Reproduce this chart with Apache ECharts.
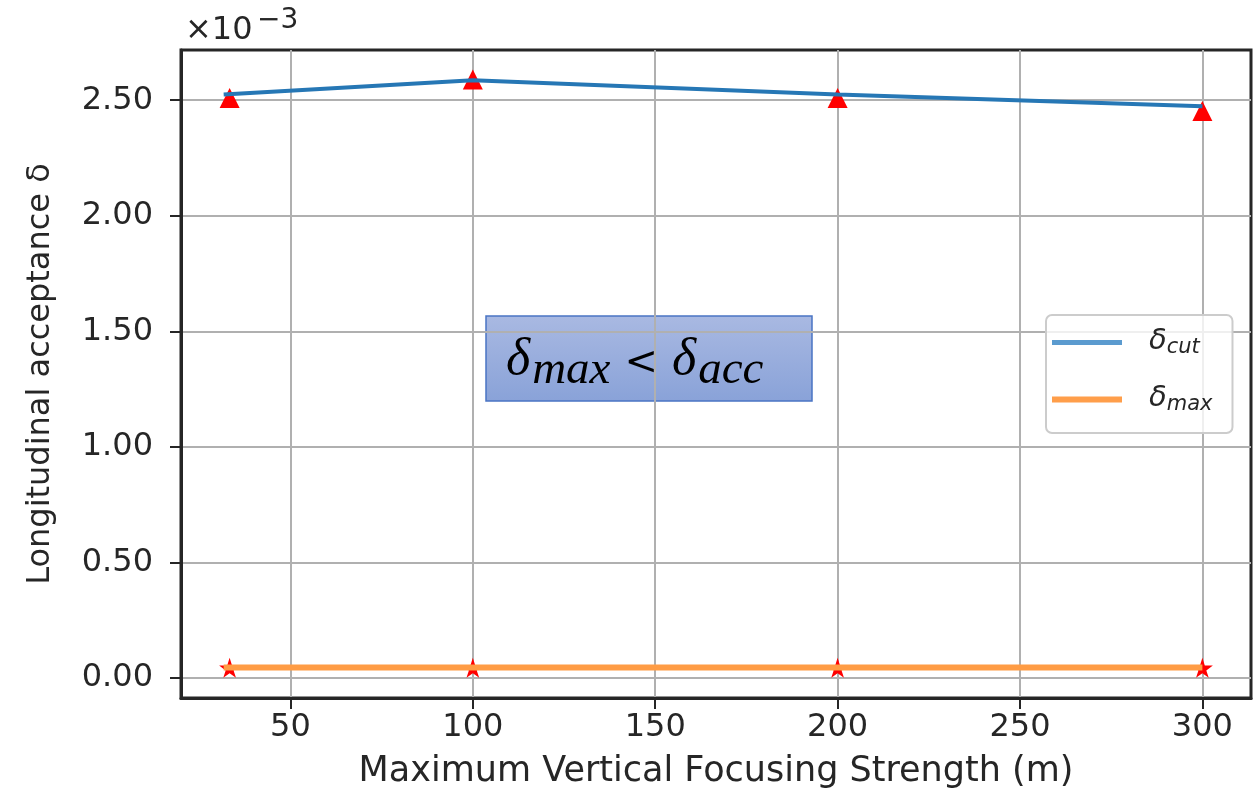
<!DOCTYPE html>
<html>
<head>
<meta charset="utf-8">
<script src="https://cdn.jsdelivr.net/npm/echarts@6/dist/echarts.min.js"></script>
<style>
  html, body { margin: 0; padding: 0; background: #ffffff; }
  #chart { width: 1258px; height: 789px; }
</style>
</head>
<body>
<div id="chart"></div>
<script>
// Focusing strength (m) at which each acceptance was evaluated
const focusStrength = [33.33, 100, 200, 300];
// x positions of the connecting lines
const lineX = [31.7, 100, 200, 300];
// Acceptances, in units of 1e-3
const deltaCut = [2.525, 2.587, 2.525, 2.474];
const cutMarkers = [2.51, 2.59, 2.51, 2.453];
const deltaMax = [0.045, 0.045, 0.045, 0.045];
const maxMarkers = [0.043, 0.043, 0.043, 0.043];
// Axis ticks
const xTicks = [50, 100, 150, 200, 250, 300];
const yTicks = [0, 0.5, 1.0, 1.5, 2.0, 2.5];
const xRange = [20, 313.33];
const yRange = [-0.0875, 2.7175];

const zip = (xs, ys) => xs.map((x, i) => [x, ys[i]]);

const INK = '#262626';
const GRIDC = '#b0b0b0';
const FONT = 'DejaVu Sans';
const STAR = 'path://M50,0 L61,35 L98,35 L68,57 L79,91 L50,70 L21,91 L32,57 L2,35 L39,35 Z';
// flat bars used as legend line samples
const BAR_THIN = 'path://M0,0 L70,0 L70,5 L0,5 Z';
const BAR_THICK = 'path://M0,0 L70,0 L70,6 L0,6 Z';

const chart = echarts.init(document.getElementById('chart'), null, { renderer: 'canvas' });

const legendRich = {
  d: { fontFamily: FONT, fontStyle: 'italic', fontSize: 29, color: INK, verticalAlign: 'bottom', padding: [0, 0, 2, 22] },
  s: { fontFamily: FONT, fontStyle: 'italic', fontSize: 21, color: INK, verticalAlign: 'bottom' }
};

const option = {
  animation: false,
  backgroundColor: '#ffffff',
  grid: {
    left: 181, right: 7, top: 50, bottom: 91,
    outerBoundsMode: 'none',
    containLabel: false,
    show: true, borderColor: INK, borderWidth: 3, backgroundColor: 'transparent'
  },
  xAxis: {
    type: 'value',
    min: xRange[0], max: xRange[1],
    name: 'Maximum Vertical Focusing Strength (m)',
    nameLocation: 'middle', nameGap: 56,
    nameTextStyle: { fontFamily: FONT, fontSize: 35, color: INK },
    axisLine: { show: true, onZero: false, lineStyle: { color: INK, width: 3 } },
    axisTick: { show: true, customValues: xTicks, length: 11, lineStyle: { color: INK, width: 2 } },
    axisLabel: { customValues: xTicks, margin: 14, fontFamily: FONT, fontSize: 32, color: INK },
    splitLine: { show: true, lineStyle: { color: GRIDC, width: 2 } }
  },
  yAxis: {
    type: 'value',
    min: yRange[0], max: yRange[1],
    name: 'Longitudinal acceptance δ',
    nameLocation: 'middle', nameGap: 124,
    nameTextStyle: { fontFamily: FONT, fontSize: 32, color: INK },
    axisLine: { show: true, onZero: false, lineStyle: { color: INK, width: 3 } },
    axisTick: { show: true, customValues: yTicks, length: 11, lineStyle: { color: INK, width: 2 } },
    axisLabel: {
      customValues: yTicks, margin: 28, fontFamily: FONT, fontSize: 32, color: INK,
      formatter: v => v.toFixed(2)
    },
    splitLine: { show: true, lineStyle: { color: GRIDC, width: 2 } }
  },
  legend: {
    orient: 'vertical',
    left: 1046, top: 315,
    padding: [12, 20, 18, 6],
    itemWidth: 70, itemHeight: 20, itemGap: 26,
    backgroundColor: 'rgba(255,255,255,0.8)',
    borderColor: '#cccccc', borderWidth: 2, borderRadius: 6,
    selectedMode: false,
    data: [
      { name: 'cut', icon: BAR_THIN, itemStyle: { color: '#5b9bcf', borderWidth: 0 } },
      { name: 'max', icon: BAR_THICK, itemStyle: { color: '#ff9e4a', borderWidth: 0 } }
    ],
    textStyle: { rich: legendRich },
    formatter: name => '{d|δ}{s|' + name + '}'
  },
  series: [
    {
      type: 'scatter', name: 'cutMarks', z: 2,
      symbol: 'triangle', symbolSize: [20, 20],
      itemStyle: { color: '#ff0000', opacity: 1 },
      data: zip(focusStrength, cutMarkers)
    },
    {
      type: 'scatter', name: 'maxMarks', z: 2,
      symbol: STAR, symbolSize: [21, 20],
      itemStyle: { color: '#ff0000', opacity: 1 },
      data: zip(focusStrength, maxMarkers)
    },
    {
      type: 'line', name: 'cut', z: 3,
      symbol: 'none',
      lineStyle: { color: '#2677b5', width: 4 },
      itemStyle: { color: '#2677b5' },
      data: zip(lineX, deltaCut)
    },
    {
      type: 'line', name: 'max', z: 3,
      symbol: 'none',
      lineStyle: { color: '#ff9c44', width: 6 },
      itemStyle: { color: '#ff9c44' },
      data: zip(lineX, deltaMax)
    }
  ],
  graphic: [
    // axis multiplier
    {
      type: 'text', left: 185, top: 15, z: 10,
      style: { text: '×10', fontFamily: FONT, fontSize: 32, fill: INK }
    },
    {
      type: 'text', left: 257, top: 7, z: 10,
      style: { text: '−3', fontFamily: FONT, fontSize: 28, fill: INK }
    },
    // condition box
    {
      type: 'group', z: 10,
      children: [
        {
          type: 'rect',
          shape: { x: 486, y: 316, width: 326, height: 85 },
          style: {
            fill: new echarts.graphic.LinearGradient(0, 0, 0, 1, [
              { offset: 0, color: '#a9b9e2' },
              { offset: 1, color: '#89a2d8' }
            ]),
            stroke: '#4a74c4', lineWidth: 1.5
          }
        },
        {
          type: 'text',
          style: {
            x: 506, y: 394,
            align: 'left', verticalAlign: 'bottom',
            text: '{d|δ}{s|max}{o|<}{d|δ}{s|acc}',
            rich: {
              d: { fontFamily: 'Liberation Serif', fontStyle: 'italic', fontSize: 52, fill: '#000000', verticalAlign: 'bottom', padding: [0, 2, 8, 0] },
              s: { fontFamily: 'Liberation Serif', fontStyle: 'italic', fontSize: 47, fill: '#000000', verticalAlign: 'bottom' },
              o: { fontFamily: 'DejaVu Serif', fontSize: 40, fill: '#000000', verticalAlign: 'bottom', padding: [0, 14, 10, 14] }
            }
          }
        }
      ]
    }
  ]
};

chart.setOption(option);
</script>
</body>
</html>
